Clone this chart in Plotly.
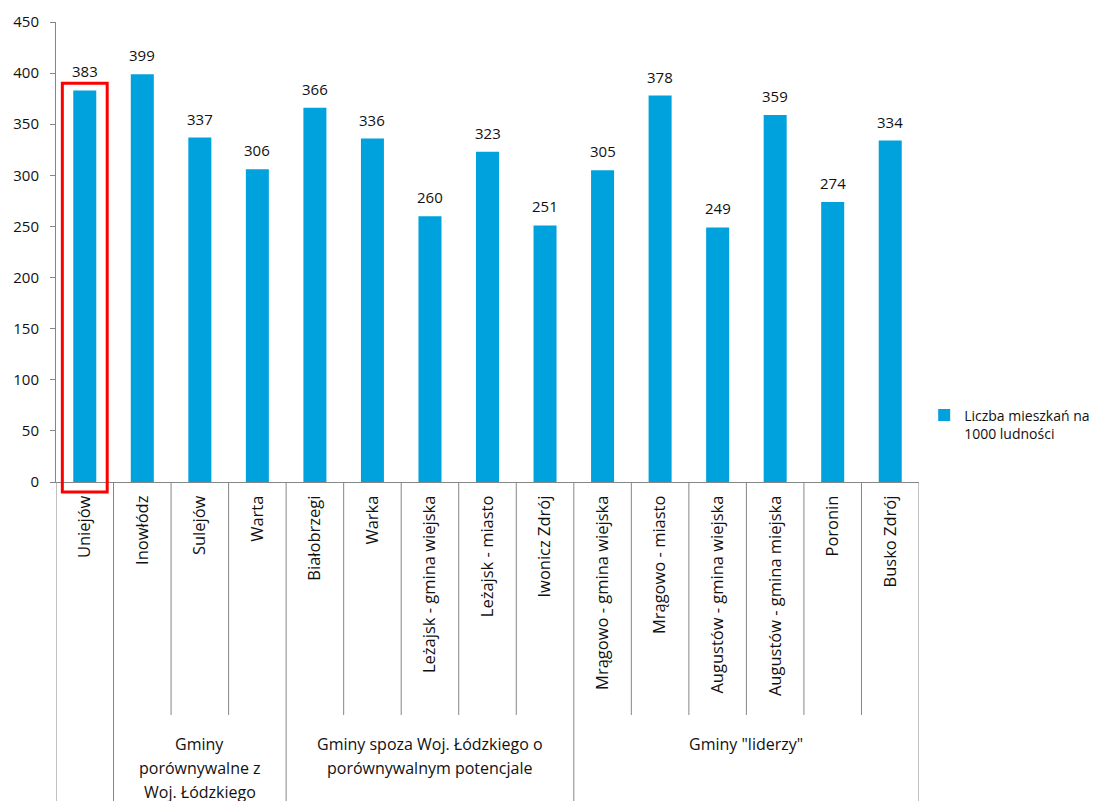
import plotly.graph_objects as go

# ── data ──────────────────────────────────────────────────────────────────────
gminy = [
    "Uniejów", "Inowłódz", "Sulejów", "Warta", "Białobrzegi", "Warka",
    "Leżajsk - gmina wiejska", "Leżajsk - miasto", "Iwonicz Zdrój",
    "Mrągowo - gmina wiejska", "Mrągowo - miasto", "Augustów - gmina wiejska",
    "Augustów - gmina miejska", "Poronin", "Busko Zdrój",
]
mieszkania = [383, 399, 337, 306, 366, 336, 260, 323, 251, 305, 378, 249, 359, 274, 334]

# group labels, one entry per text line
grupy = [
    [],
    ["Gminy", "porównywalne z", "Woj. Łódzkiego"],
    ["Gminy spoza Woj. Łódzkiego o", "porównywalnym potencjale"],
    ['Gminy "liderzy"'],
]
grupy_rozmiar = [1, 3, 5, 6]

series_name = "Liczba mieszkań na<br>1000 ludności"
y_ticks = [0, 50, 100, 150, 200, 250, 300, 350, 400, 450]

# ── styling ───────────────────────────────────────────────────────────────────
_BAR = "#00A2DE"
_AXIS = "#868686"
_TEXT = "#111111"
_FONT = "'Open Sans', sans-serif"

PLOT_H = 460  # px height of the plotting area

x = list(range(len(gminy)))

fig = go.Figure(go.Bar(
    x=x, y=mieszkania, name=series_name,
    marker_color=_BAR, marker_line_width=0,
    showlegend=True,
))

# category separators (short inside groups, long at group edges)
y_short = -233 / PLOT_H
y_long = -0.70
edges = [-0.5]
acc = -0.5
for n in grupy_rozmiar:
    acc += n
    edges.append(acc)

shapes = []
for k in range(len(gminy) + 1):
    xb = k - 0.5
    shapes.append(dict(
        type="line", xref="x", yref="paper", x0=xb, x1=xb,
        y0=0, y1=y_long if xb in edges else y_short,
        line=dict(color=_AXIS, width=1),
    ))

# red highlight around the first bar
shapes.append(dict(
    type="rect", xref="x", yref="paper",
    x0=-0.39, x1=0.39, y0=-10 / PLOT_H, y1=(mieszkania[0] + 7) / 450,
    line=dict(color="#FF0000", width=3), fillcolor="rgba(0,0,0,0)",
))

annotations = []

# value labels above bars
for xi, v in zip(x, mieszkania):
    annotations.append(dict(
        x=xi, y=v, xref="x", yref="y", text=str(v), showarrow=False,
        yanchor="bottom", xanchor="center", yshift=7,
        font=dict(size=15, color=_TEXT, family=_FONT),
    ))

start = 0
for lines, n in zip(grupy, grupy_rozmiar):
    center = start + (n - 1) / 2
    start += n
    for i, line in enumerate(lines):
        annotations.append(dict(
            x=center, y=(-262 - 24 * i) / PLOT_H, xref="x", yref="paper",
            text=line, showarrow=False, yanchor="middle", xanchor="center",
            font=dict(size=16, color=_TEXT, family=_FONT),
        ))

fig.update_layout(
    width=1093, height=793,
    paper_bgcolor="white", plot_bgcolor="white",
    font=dict(family=_FONT, size=15, color=_TEXT),
    margin=dict(l=48, r=182, t=14, b=319, autoexpand=False),
    bargap=0.6,
    showlegend=True,
    legend=dict(
        x=1.006, y=0.125, xanchor="left", yanchor="middle",
        font=dict(size=14, color=_TEXT), valign="top",
        bgcolor="rgba(0,0,0,0)", itemwidth=30,
    ),
    xaxis=dict(
        range=[-0.5, len(gminy) - 0.5],
        tickmode="array", tickvals=x, ticktext=gminy, tickangle=-90,
        showline=True, linecolor=_AXIS, linewidth=1,
        showgrid=False, zeroline=False, ticks="",
        tickfont=dict(size=16.5, color=_TEXT),
        ticklabelstandoff=6,
    ),
    yaxis=dict(
        range=[0, 450], tickmode="array", tickvals=y_ticks,
        showline=True, linecolor=_AXIS, linewidth=1,
        showgrid=False, zeroline=False,
        ticks="outside", ticklen=5, tickcolor=_AXIS,
        tickfont=dict(size=15, color=_TEXT),
        ticklabelstandoff=8,
    ),
    shapes=shapes,
    annotations=annotations,
)

fig.write_html("out.html")
